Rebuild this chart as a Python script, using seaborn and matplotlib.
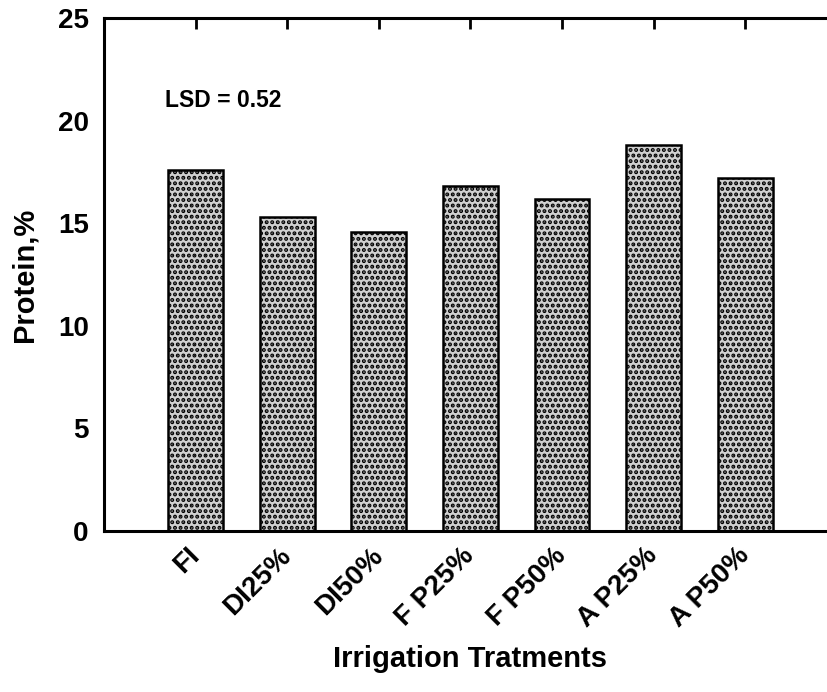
import matplotlib
matplotlib.use("Agg")
import matplotlib.pyplot as plt
import seaborn as sns
import pandas as pd

# data
treatments = ["FI", "DI25%", "DI50%", "F P25%", "F P50%", "A P25%", "A P50%"]
protein = [17.6, 15.3, 14.6, 16.8, 16.2, 18.8, 17.2]
lsd_text = "LSD = 0.52"

df = pd.DataFrame({"treatment": treatments, "protein": protein})

sns.set_theme(style="white")
plt.rcParams["font.family"] = ["Liberation Sans", "DejaVu Sans"]
plt.rcParams["font.weight"] = "bold"
plt.rcParams["text.color"] = "black"
plt.rcParams["axes.labelcolor"] = "black"
plt.rcParams["xtick.color"] = "black"
plt.rcParams["ytick.color"] = "black"
plt.rcParams["hatch.color"] = "black"
plt.rcParams["hatch.linewidth"] = 2.0

fig = plt.figure(figsize=(8.28, 6.92), dpi=100)
ax = fig.add_axes([0.1256, 0.2327, 0.885, 0.741])

sns.barplot(data=df, x="treatment", y="protein", order=treatments,
            color="#d0d0d0", width=0.6, edgecolor="black", linewidth=1.8,
            saturation=1, ax=ax)
for p in ax.patches:
    p.set_hatch("...")

ax.set_xlim(-1, 7)
ax.set_ylim(0, 25)
ax.set_yticks([0, 5, 10, 15, 20, 25])
ax.set_xticks(range(len(treatments)))
ax.set_xticklabels(treatments, rotation=45, ha="right", va="center",
                   rotation_mode="anchor", fontsize=20, fontweight="bold")
ax.tick_params(axis="y", labelsize=20, direction="in", length=8, width=2, pad=11)
ax.tick_params(axis="x", direction="in", length=8, width=2, pad=15,
               top=True, bottom=True)
for lab in ax.get_yticklabels():
    lab.set_fontweight("bold")

for side in ["left", "bottom", "top"]:
    ax.spines[side].set_visible(True)
    ax.spines[side].set_color("black")
    ax.spines[side].set_linewidth(2.2)
ax.spines["right"].set_visible(False)

ax.set_xlabel("Irrigation Tratments", fontsize=21, fontweight="bold")
ax.set_ylabel("Protein,%", fontsize=21, fontweight="bold")
ax.xaxis.set_label_coords(0.5, -0.25)
ax.xaxis.label.set_va("center")
ax.yaxis.set_label_coords(-0.108, 0.5)
ax.yaxis.label.set_va("center")

ax.text(0.083, 0.84, lsd_text, transform=ax.transAxes, fontsize=16.5,
        fontweight="bold", va="center", ha="left")

fig.savefig("out.png", dpi=100)
